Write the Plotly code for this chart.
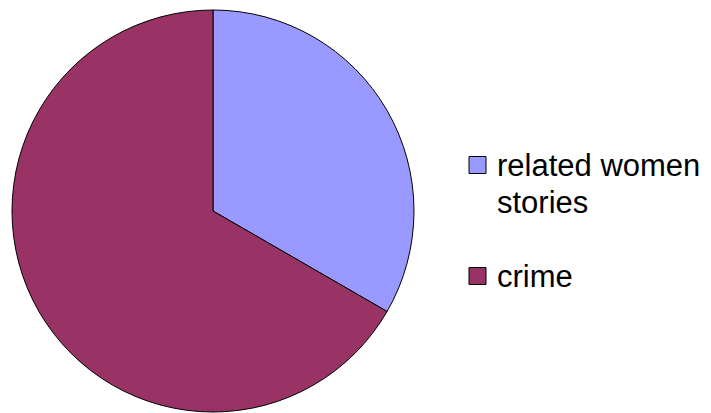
import plotly.graph_objects as go

labels = ["related women<br>stories", "crime"]
values = [1, 2]
colors = ["#9999FF", "#993366"]

W, H = 711, 413
OFF = 8  # page body margin offset in the browser
cx, cy, r = 213 - OFF, 211 - OFF, 201


def px(x):
    return x / W


def py(y):
    return 1 - y / H


fig = go.Figure(go.Pie(
    labels=labels,
    values=values,
    sort=False,
    direction="clockwise",
    rotation=0,
    textinfo="none",
    hoverinfo="label+percent",
    showlegend=False,
    marker=dict(colors=colors, line=dict(color="#000000", width=1)),
    domain=dict(x=[px(cx - r), px(cx + r)], y=[py(cy + r), py(cy - r)]),
))

# manual legend (square + text) built from labels / colors
sq = 17
sq_left = 469 - OFF
text_left = 495 - OFF
line_gap = 37
entry_tops = [165 - OFF, 276 - OFF]    # centre of first text line of each entry
font = dict(family="Liberation Sans, Arial, sans-serif", size=31, color="#000000")

for lab, col, y0 in zip(labels, colors, entry_tops):
    fig.add_shape(
        type="rect", xref="paper", yref="paper",
        x0=px(sq_left), x1=px(sq_left + sq),
        y0=py(y0 + sq / 2), y1=py(y0 - sq / 2),
        fillcolor=col, line=dict(color="#000000", width=1),
    )
    for k, line in enumerate(lab.split("<br>")):
        fig.add_annotation(
            xref="paper", yref="paper", x=px(text_left), y=py(y0 + k * line_gap),
            xanchor="left", yanchor="middle", align="left",
            text=line, showarrow=False, font=font,
        )

fig.update_layout(
    width=W, height=H,
    margin=dict(l=0, r=0, t=0, b=0),
    paper_bgcolor="white",
    plot_bgcolor="white",
)

fig.write_html("out.html")
